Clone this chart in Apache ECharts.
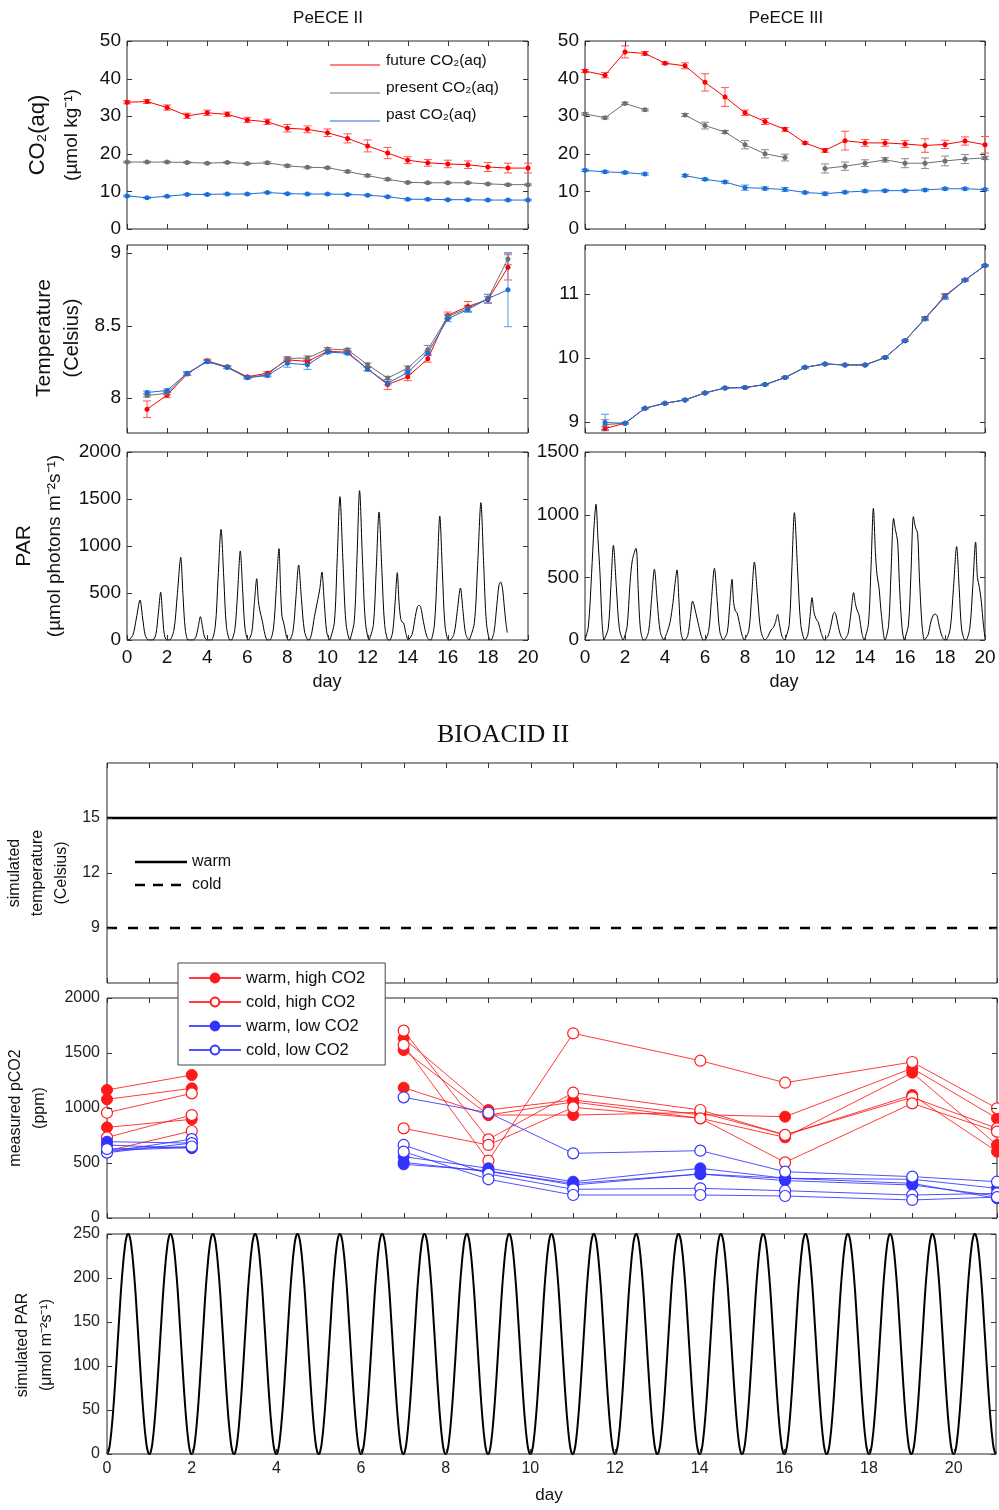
<!DOCTYPE html>
<html><head><meta charset="utf-8">
<script src="https://cdn.jsdelivr.net/npm/echarts@6/dist/echarts.min.js"></script>
<style>html,body{margin:0;padding:0;background:#fff}#c{width:999px;height:1510px}</style>
</head><body><div id="c"></div>
<script>
// ---------------- DATA ----------------
const co2Days = [0,1,2,3,4,5,6,7,8,9,10,11,12,13,14,15,16,17,18,19,20];
const peeceII_future     = [33.7,33.9,32.3,30.1,30.9,30.5,29.0,28.5,26.8,26.5,25.6,24.1,22.1,20.2,18.3,17.6,17.3,17.1,16.5,16.2,16.2];
const peeceII_futureErr  = [0.4,0.5,0.7,0.7,0.7,0.6,0.7,0.7,1.0,0.9,1.0,1.2,1.6,1.5,0.9,0.9,1.0,1.0,1.2,1.3,1.3];
const peeceII_present    = [17.8,17.8,17.8,17.7,17.5,17.7,17.4,17.6,16.8,16.4,16.3,15.3,14.2,13.2,12.4,12.3,12.3,12.3,12.0,11.8,11.8];
const peeceII_presentErr = [0.2,0.2,0.2,0.2,0.2,0.2,0.2,0.3,0.3,0.2,0.2,0.3,0.3,0.3,0.2,0.2,0.2,0.2,0.2,0.2,0.2];
const peeceII_past       = [8.8,8.3,8.7,9.2,9.2,9.3,9.3,9.7,9.4,9.3,9.3,9.2,9.0,8.6,7.9,7.9,7.8,7.8,7.7,7.7,7.7];
const peeceII_pastErr    = [0.2,0.2,0.2,0.2,0.2,0.2,0.2,0.2,0.2,0.2,0.2,0.2,0.2,0.2,0.2,0.2,0.2,0.2,0.2,0.2,0.2];

const peeceIII_future     = [42.0,40.9,47.1,46.7,44.1,43.4,39.0,35.1,30.9,28.6,26.5,22.9,20.9,23.5,22.9,22.9,22.6,22.2,22.5,23.4,22.4];
const peeceIII_futureErr  = [0.4,0.7,1.6,0.5,0.3,0.8,2.3,2.5,0.7,0.8,0.5,0.3,0.5,2.5,0.9,0.9,0.9,1.8,1.1,1.1,2.2];
const peeceIII_present    = [30.6,29.6,33.4,31.7,null,30.3,27.5,25.8,22.4,20.0,19.0,null,16.1,16.7,17.5,18.4,17.5,17.5,18.1,18.6,18.9];
const peeceIII_presentErr = [0.3,0.3,0.3,0.3,null,0.4,0.9,0.4,1.1,1.1,0.9,null,1.2,1.1,0.9,0.6,1.2,1.4,1.3,1.2,0.4];
const peeceIII_past       = [15.6,15.2,15.0,14.6,null,14.2,13.2,12.5,11.0,10.8,10.5,9.7,9.4,9.8,10.1,10.2,10.2,10.4,10.7,10.7,10.5];
const peeceIII_pastErr    = [0.3,0.3,0.3,0.3,null,0.3,0.3,0.3,0.7,0.4,0.5,0.3,0.4,0.3,0.3,0.3,0.3,0.3,0.3,0.3,0.3];

const tempDaysII = [1,2,3,4,5,6,7,8,9,10,11,12,13,14,15,16,17,18,19];
const tempII_future     = [7.924,8.021,8.166,8.257,8.216,8.147,8.172,8.264,8.253,8.322,8.317,8.200,8.094,8.147,8.271,8.570,8.632,8.678,8.901];
const tempII_futureErr  = [0.057,0.018,0.010,0.012,0.008,0.008,0.010,0.012,0.012,0.010,0.010,0.012,0.034,0.027,0.023,0.023,0.034,0.023,0.087];
const tempII_present    = [8.018,8.034,8.170,8.253,8.214,8.143,8.161,8.274,8.276,8.338,8.333,8.230,8.138,8.207,8.333,8.563,8.618,8.685,8.959];
const tempII_presentErr = [0.010,0.010,0.010,0.010,0.008,0.008,0.010,0.012,0.015,0.010,0.010,0.012,0.012,0.015,0.030,0.015,0.020,0.030,0.040];
const tempII_past       = [8.039,8.053,8.172,8.251,8.211,8.140,8.156,8.241,8.230,8.317,8.310,8.200,8.103,8.177,8.310,8.547,8.611,8.685,8.747];
const tempII_pastErr    = [0.010,0.010,0.010,0.010,0.008,0.008,0.010,0.028,0.032,0.010,0.010,0.012,0.012,0.012,0.015,0.020,0.020,0.030,0.255];

const tempDaysIII = [1,2,3,4,5,6,7,8,9,10,11,12,13,14,15,16,17,18,19,20];
const tempIII_future     = [8.890,8.974,9.209,9.287,9.339,9.449,9.527,9.533,9.580,9.689,9.851,9.903,9.888,9.888,10.003,10.269,10.620,10.975,11.219,11.449];
const tempIII_futureErr  = [0.030,0.010,0.010,0.010,0.010,0.010,0.010,0.010,0.010,0.010,0.010,0.010,0.010,0.010,0.010,0.015,0.020,0.030,0.015,0.010];
const tempIII_present    = [8.950,8.974,9.209,9.287,9.339,9.449,9.527,9.533,9.580,9.689,9.851,9.903,9.888,9.888,10.003,10.269,10.610,10.965,11.219,11.449];
const tempIII_presentErr = [0.080,0.010,0.010,0.010,0.010,0.010,0.010,0.010,0.010,0.010,0.010,0.010,0.010,0.010,0.010,0.015,0.020,0.040,0.015,0.010];
const tempIII_past       = [8.984,8.974,9.209,9.287,9.339,9.449,9.527,9.533,9.580,9.689,9.851,9.903,9.888,9.888,10.003,10.269,10.614,10.958,11.219,11.449];
const tempIII_pastErr    = [0.130,0.010,0.010,0.010,0.010,0.010,0.010,0.010,0.010,0.010,0.010,0.010,0.010,0.010,0.010,0.015,0.025,0.045,0.015,0.010];

// measured PAR, [day, umol photons m-2 s-1]
const parII = [
[0,0],[0.05,0],[0.29,51],[0.47,234],[0.65,425],[0.78,234],[0.91,51],[1.08,0],
[1.28,0],[1.44,61],[1.56,279],[1.68,507],[1.77,279],[1.86,61],[1.98,0],
[2.12,0],[2.34,106],[2.51,484],[2.68,880],[2.79,484],[2.91,106],[3.06,0],
[3.28,0],[3.43,30],[3.55,136],[3.66,248],[3.77,136],[3.87,30],[4.01,0],
[4.2,0],[4.40,141],[4.54,648],[4.69,1178],[4.83,648],[4.96,141],[5.14,0],
[5.2,0],[5.38,114],[5.52,521],[5.65,947],[5.77,521],[5.89,114],[6.05,0],
[6.22,78],[6.34,359],[6.47,652],[6.55,420],[6.62,320],[6.75,200],[6.88,60],[7.0,0],
[7.12,0],[7.30,117],[7.44,535],[7.58,972],[7.66,535],[7.73,250],[7.83,170],[7.95,40],[8.05,0],
[8.1,0],[8.28,96],[8.42,439],[8.56,798],[8.70,439],[8.85,96],[9.04,0],
[9.08,0],[9.2,60],[9.35,250],[9.48,390],[9.62,550],[9.72,723],[9.84,398],[9.96,87],[10.12,0],
[10.15,0],[10.34,183],[10.48,839],[10.62,1525],[10.77,839],[10.92,183],[11.12,0],
[11.15,0],[11.33,191],[11.47,874],[11.6,1589],[11.74,874],[11.89,191],[12.08,0],
[12.1,0],[12.29,163],[12.43,749],[12.57,1362],[12.71,749],[12.85,163],[13.03,0],
[13.1,0],[13.25,86],[13.37,394],[13.48,716],[13.57,394],[13.65,230],[13.72,190],[13.8,180],[13.9,80],[14.03,0],
[14.05,0],[14.22,60],[14.38,250],[14.48,350],[14.56,369],[14.65,350],[14.78,200],[14.95,40],[15.11,0],
[15.15,0],[15.33,158],[15.47,725],[15.6,1319],[15.73,725],[15.86,158],[16.03,0],
[16.1,0],[16.31,66],[16.47,304],[16.63,553],[16.76,304],[16.89,66],[17.07,0],
[17.1,0],[17.32,175],[17.49,804],[17.65,1461],[17.79,804],[17.93,175],[18.11,0],
[18.15,0],[18.3,80],[18.45,380],[18.55,580],[18.63,617],[18.72,560],[18.82,350],[18.9,180],[18.97,78]
];
const parIII = [
[0,0],[0.17,110],[0.33,530],[0.45,900],[0.55,1083],[0.65,800],[0.75,530],[0.85,150],[0.95,0],
[0.98,0],[1.16,91],[1.29,416],[1.42,756],[1.57,416],[1.72,91],[1.92,0],
[1.95,0],[2.1,100],[2.25,450],[2.37,640],[2.55,732],[2.66,403],[2.77,88],[2.92,0],
[2.98,0],[3.18,68],[3.32,310],[3.47,564],[3.61,310],[3.76,68],[3.95,0],
[3.97,0],[4.1,60],[4.25,140],[4.4,300],[4.5,450],[4.6,559],[4.70,307],[4.79,67],[4.92,0],
[4.98,0],[5.14,37],[5.26,171],[5.38,311],[5.45,280],[5.55,210],[5.65,140],[5.8,40],[5.92,0],
[5.98,0],[6.18,69],[6.32,315],[6.47,572],[6.61,315],[6.74,69],[6.92,0],
[6.95,0],[7.11,58],[7.23,266],[7.35,484],[7.43,300],[7.52,230],[7.6,220],[7.7,150],[7.85,40],[7.97,0],
[8.0,0],[8.19,75],[8.33,342],[8.47,622],[8.63,342],[8.79,75],[9.0,0],
[9.15,30],[9.3,80],[9.42,100],[9.52,140],[9.63,205],[9.72,130],[9.85,30],[10.0,0],
[10.03,0],[10.21,122],[10.34,559],[10.47,1016],[10.63,559],[10.79,122],[11.0,0],
[11.14,41],[11.25,186],[11.35,338],[11.45,220],[11.55,170],[11.67,140],[11.8,60],[11.97,0],
[12.0,0],[12.15,30],[12.3,120],[12.4,200],[12.47,221],[12.55,200],[12.65,120],[12.8,30],[12.97,0],
[13.0,0],[13.15,50],[13.3,220],[13.43,378],[13.52,290],[13.6,240],[13.7,200],[13.85,50],[13.97,0],
[14.0,0],[14.17,126],[14.3,578],[14.42,1051],[14.52,700],[14.6,520],[14.7,420],[14.82,200],[15.0,0],
[15.18,117],[15.3,534],[15.43,971],[15.52,880],[15.63,790],[15.72,450],[15.85,100],[15.97,0],
[16.0,0],[16.17,118],[16.3,541],[16.42,984],[16.52,900],[16.63,850],[16.72,500],[16.85,120],[16.97,0],
[17.0,0],[17.15,40],[17.3,150],[17.42,200],[17.5,207],[17.6,195],[17.7,120],[17.85,30],[18.0,0],
[18.05,0],[18.26,89],[18.42,410],[18.58,745],[18.71,410],[18.83,89],[19.0,0],
[19.05,0],[19.24,94],[19.39,430],[19.53,782],[19.62,500],[19.72,420],[19.82,300],[19.92,120],[20.0,20]
];

// BIOACID II
const bioTempDays = [0, 21];
const warmTemp = [15, 15];
const coldTemp = [9, 9];

const bioDays = [0, 2, 7, 9, 11, 14, 16, 19, 21];
const warmHigh = [
  [1164,1300,1633,982,1073,939,921,1361,906],
  [1079,1179,1527,936,1055,906,733,1321,664],
  [824,897,1185,936,936,960,755,1118,603]
];
const coldHigh = [
  [957,1133,1703,715,1139,982,755,1097,815],
  [733,936,815,664,1006,906,506,1042,785],
  [610,791,1573,521,1679,1430,1230,1418,997]
];
const warmLow = [
  [694,681,557,452,330,452,361,352,270],
  [663,635,506,421,315,400,361,315,179],
  [615,640,488,430,300,400,340,300,200]
];
const coldLow = [
  [600,717,1097,957,588,612,421,376,330],
  [594,681,664,400,261,270,248,209,224],
  [627,650,603,352,209,209,200,164,190]
];

// simulated PAR: one daily cycle (hourly values) repeated each simulated day
const bioParHourly = [0,4,17,37,63,93,125,157,188,213,233,246,250,246,233,213,188,157,125,93,63,37,17,4];
const bioParNDays = 21;

// tick positions
const dayTicks2  = [0,2,4,6,8,10,12,14,16,18,20];
const dayTicks1  = [0,1,2,3,4,5,6,7,8,9,10,11,12,13,14,15,16,17,18,19,20,21];
const co2Ticks   = [0,10,20,30,40,50];
const tempIITicks  = [8,8.5,9];
const tempIIITicks = [9,10,11];
const parIITicks   = [0,500,1000,1500,2000];
const parIIITicks  = [0,500,1000,1500];
const bioTempTicks = [9,12,15];
const pco2Ticks    = [0,500,1000,1500,2000];
const bioParTicks  = [0,50,100,150,200,250];

// ---------------- BUILD ----------------
const F = '"Liberation Sans", Arial, Helvetica, sans-serif';
const RED='#ff0000', GRAY='#707070', BLUE='#1a6ed8';
const REDE='#ff5555', GRAYE='#8a8a8a', BLUEE='#5a9be6';
const BRED='#ff1a1a', BBLUE='#3333ff';
const plain = v => String(v);

const grids=[], xAxes=[], yAxes=[], series=[];

function panel(box, xo, yo){
  const gi = grids.length;
  grids.push({left:box[0], top:box[1], width:box[2], height:box[3], show:true,
    borderColor:'#262626', borderWidth:1, backgroundColor:'rgba(0,0,0,0)'});
  const xi = xAxes.length, yi = yAxes.length;
  xAxes.push(Object.assign({type:'value', gridIndex:gi, axisLine:{show:false}, splitLine:{show:false}, axisTick:{show:false}}, xo.scale,
    {position:'bottom', axisLabel: xo.label || {show:false}}));
  yAxes.push(Object.assign({type:'value', gridIndex:gi, axisLine:{show:false}, splitLine:{show:false}, axisTick:{show:false}}, yo.scale,
    {position:'left', axisLabel: yo.label || {show:false}}));
  const p = {xi, yi};
  // inward ticks on all four sides, placed through the axes' scales
  const xmin = xo.scale.min, ymin = yo.scale.min;
  const xt = xo.ticks, yt = yo.ticks, L = 5;
  series.push({type:'custom', xAxisIndex:xi, yAxisIndex:yi, data:[[xmin, ymin]], z:6, silent:true, clip:false,
    encode:{x:0, y:1},
    renderItem:(params, api)=>{
      const cs = params.coordSys, ch = [];
      const st = {stroke:'#333', lineWidth:1};
      xt.forEach(v=>{ const px = Math.round(api.coord([v, ymin])[0]) + 0.5;
        ch.push({type:'line', shape:{x1:px, y1:cs.y+cs.height, x2:px, y2:cs.y+cs.height-L}, style:st});
        ch.push({type:'line', shape:{x1:px, y1:cs.y, x2:px, y2:cs.y+L}, style:st}); });
      yt.forEach(v=>{ const py = Math.round(api.coord([xmin, v])[1]) + 0.5;
        ch.push({type:'line', shape:{x1:cs.x, y1:py, x2:cs.x+L, y2:py}, style:st});
        ch.push({type:'line', shape:{x1:cs.x+cs.width, y1:py, x2:cs.x+cs.width-L, y2:py}, style:st}); });
      return {type:'group', children:ch};
    }});
  return p;
}

function lineS(p, days, vals, color, size){
  series.push({type:'line', xAxisIndex:p.xi, yAxisIndex:p.yi,
    data: days.map((d,i)=>[d, vals[i]==null ? '-' : vals[i]]),
    symbol:'circle', symbolSize:size||5, showSymbol:true, connectNulls:false,
    lineStyle:{color, width:1}, itemStyle:{color}, z:4, silent:true});
}
function errS(p, days, vals, errs, color, cap){
  const data=[];
  days.forEach((d,i)=>{ if(vals[i]!=null && errs[i]!=null) data.push([d, vals[i], errs[i]]); });
  series.push({type:'custom', xAxisIndex:p.xi, yAxisIndex:p.yi, data, z:3, silent:true,
    encode:{x:0, y:1},
    renderItem:(params, api)=>{
      const x=api.value(0), y=api.value(1), e=api.value(2);
      const a=api.coord([x, y+e]), b=api.coord([x, y-e]);
      const st={stroke:color, lineWidth:1};
      return {type:'group', children:[
        {type:'line', shape:{x1:a[0],y1:a[1],x2:b[0],y2:b[1]}, style:st},
        {type:'line', shape:{x1:a[0]-cap,y1:a[1],x2:a[0]+cap,y2:a[1]}, style:st},
        {type:'line', shape:{x1:b[0]-cap,y1:b[1],x2:b[0]+cap,y2:b[1]}, style:st}
      ]};
    }});
}

const topLbl = () => ({show:true, fontSize:19, fontFamily:F, color:'#111', margin:6, formatter:plain});
const topXLbl = () => ({show:true, fontSize:19, fontFamily:F, color:'#111', margin:8, formatter:plain});
const X20 = {min:0, max:20, interval:2};

// CO2 panels
const pA = panel([127,41,401,188], {scale:X20, ticks:dayTicks2}, {scale:{min:0,max:50,interval:10}, ticks:co2Ticks, label:topLbl()});
const pB = panel([585,41,400,188], {scale:X20, ticks:dayTicks2}, {scale:{min:0,max:50,interval:10}, ticks:co2Ticks, label:topLbl()});
[[pA, peeceII_future, peeceII_futureErr, RED, REDE],
 [pA, peeceII_present, peeceII_presentErr, GRAY, GRAYE],
 [pA, peeceII_past, peeceII_pastErr, BLUE, BLUEE],
 [pB, peeceIII_future, peeceIII_futureErr, RED, REDE],
 [pB, peeceIII_present, peeceIII_presentErr, GRAY, GRAYE],
 [pB, peeceIII_past, peeceIII_pastErr, BLUE, BLUEE]].forEach(r=>{
  errS(r[0], co2Days, r[1], r[2], r[4], 4);
  lineS(r[0], co2Days, r[1], r[3], 5);
});

// Temperature panels
const tLblNoEnds = () => Object.assign(topLbl(), {showMinLabel:false, showMaxLabel:false});
const pC = panel([127,245,401,188], {scale:X20, ticks:dayTicks2},
  {scale:{min:7.76, max:9.055, minInterval:0.5, maxInterval:0.5}, ticks:tempIITicks, label:tLblNoEnds()});
const pD = panel([585,245,400,188], {scale:X20, ticks:dayTicks2},
  {scale:{min:8.82, max:11.77, minInterval:1, maxInterval:1}, ticks:tempIIITicks, label:tLblNoEnds()});
[[pC, tempDaysII, tempII_future, tempII_futureErr, RED, REDE],
 [pC, tempDaysII, tempII_present, tempII_presentErr, GRAY, GRAYE],
 [pC, tempDaysII, tempII_past, tempII_pastErr, BLUE, BLUEE],
 [pD, tempDaysIII, tempIII_future, tempIII_futureErr, RED, REDE],
 [pD, tempDaysIII, tempIII_present, tempIII_presentErr, GRAY, GRAYE],
 [pD, tempDaysIII, tempIII_past, tempIII_pastErr, BLUE, BLUEE]].forEach(r=>{
  errS(r[0], r[1], r[2], r[3], r[5], 4);
  lineS(r[0], r[1], r[2], r[4], 5);
});

// PAR panels
const pE = panel([127,452,401,188], {scale:X20, ticks:dayTicks2, label:topXLbl()},
  {scale:{min:0,max:2000,interval:500}, ticks:parIITicks, label:topLbl()});
const pF = panel([585,452,400,188], {scale:X20, ticks:dayTicks2, label:topXLbl()},
  {scale:{min:0,max:1500,interval:500}, ticks:parIIITicks, label:topLbl()});
[[pE, parII],[pF, parIII]].forEach(r=>{
  series.push({type:'line', xAxisIndex:r[0].xi, yAxisIndex:r[0].yi, data:r[1], showSymbol:false, symbol:'none',
    smooth:0.3, lineStyle:{color:'#000', width:1}, z:4, silent:true});
});

// BIOACID panels
const botLbl = () => ({show:true, fontSize:16, fontFamily:F, color:'#222', margin:7, formatter:plain});
const X21d = {min:0, max:21, interval:1};
const pG = panel([107,763,890,220], {scale:X21d, ticks:dayTicks1},
  {scale:{min:6,max:18,interval:3}, ticks:bioTempTicks, label:Object.assign(botLbl(), {formatter:v=>(v===6||v===18)?'':String(v)})});
series.push({type:'line', xAxisIndex:pG.xi, yAxisIndex:pG.yi, data:bioTempDays.map((d,i)=>[d,warmTemp[i]]),
  symbol:'none', lineStyle:{color:'#000', width:2.5}, z:4, silent:true});
series.push({type:'line', xAxisIndex:pG.xi, yAxisIndex:pG.yi, data:bioTempDays.map((d,i)=>[d,coldTemp[i]]),
  symbol:'none', lineStyle:{color:'#000', width:2.5, type:[10,11]}, z:4, silent:true});

const pH = panel([107,998,890,220], {scale:X21d, ticks:dayTicks1},
  {scale:{min:0,max:2000,interval:500}, ticks:pco2Ticks, label:botLbl()});
function bioLine(vals, name, color, filled){
  // break the line over the sampling gap between day 2 and day 7
  const data = [];
  bioDays.forEach((d,i)=>{ data.push([d, vals[i]]); if(d===2) data.push([4.5,'-']); });
  series.push({type:'line', name, xAxisIndex:pH.xi, yAxisIndex:pH.yi, data, connectNulls:false,
    symbol:'circle', symbolSize:11, showSymbol:true,
    lineStyle:{color, width:1, opacity:0.85},
    itemStyle: filled ? {color, borderColor:color, borderWidth:1} : {color:'#fff', borderColor:color, borderWidth:1.2},
    z:4, silent:true});
}
warmHigh.forEach(v=>bioLine(v,'warm, high CO2',BRED,true));
coldHigh.forEach(v=>bioLine(v,'cold, high CO2',BRED,false));
warmLow.forEach(v=>bioLine(v,'warm, low CO2',BBLUE,true));
coldLow.forEach(v=>bioLine(v,'cold, low CO2',BBLUE,false));

const pI = panel([107,1234,890,220], {scale:{min:0,max:21,interval:2}, ticks:dayTicks2,
  label:Object.assign(botLbl(), {formatter:v=>v>20?'':String(v)})},
  {scale:{min:0,max:250,interval:50}, ticks:bioParTicks, label:botLbl()});
const bioPar = [];
for(let d=0; d<bioParNDays; d++) bioParHourly.forEach((v,h)=>bioPar.push([d+h/24, v]));
bioPar.push([bioParNDays, bioParHourly[0]]);
series.push({type:'line', xAxisIndex:pI.xi, yAxisIndex:pI.yi, data:bioPar, symbol:'none', smooth:true,
  lineStyle:{color:'#000', width:2}, z:4, silent:true});

// ---------------- TEXT ----------------
function txt(x, y, text, size, opts){
  opts = opts || {};
  return {type:'text', x, y, rotation: opts.rot ? Math.PI/2 : 0, z:20, silent:true,
    style:{text, fontSize:size, fontFamily:opts.font||F, fill:opts.color||'#111',
      align:opts.align||'center', verticalAlign:'middle', textAlign:opts.align||'center', textVerticalAlign:'middle'}};
}
const graphics = [
  txt(328,18,'PeECE II',17), txt(786,18,'PeECE III',17),
  txt(38,135,'CO₂(aq)',22,{rot:1}), txt(72,135,'(µmol kg⁻¹)',19,{rot:1}),
  txt(44,338,'Temperature',21,{rot:1}), txt(72,338,'(Celsius)',20,{rot:1}),
  txt(24,546,'PAR',21,{rot:1}), txt(55,546,'(µmol photons m⁻²s⁻¹)',19,{rot:1}),
  txt(327,682,'day',18), txt(784,682,'day',18),
  txt(503,735,'BIOACID II',26,{font:'"Liberation Serif", "DejaVu Serif", serif'}),
  txt(15,873,'simulated',16,{rot:1}), txt(38,873,'temperature',16,{rot:1}), txt(62,873,'(Celsius)',16,{rot:1}),
  txt(16,1108,'measured pCO2',16,{rot:1}), txt(40,1108,'(ppm)',16,{rot:1}),
  txt(23,1345,'simulated PAR',16,{rot:1}), txt(47,1345,'(μmol m⁻²s⁻¹)',16,{rot:1}),
  txt(549,1495,'day',17),
  // CO2 legend (PeECE II)
  {type:'line', shape:{x1:330,y1:65,x2:380,y2:65}, style:{stroke:RED, lineWidth:1}, z:20},
  {type:'line', shape:{x1:330,y1:93,x2:380,y2:93}, style:{stroke:GRAY, lineWidth:1}, z:20},
  {type:'line', shape:{x1:330,y1:121,x2:380,y2:121}, style:{stroke:BLUE, lineWidth:1}, z:20},
  txt(386,61,'future CO₂(aq)',15.5,{align:'left'}),
  txt(386,88,'present CO₂(aq)',15.5,{align:'left'}),
  txt(386,115,'past CO₂(aq)',15.5,{align:'left'}),
  // temperature legend (BIOACID)
  {type:'line', shape:{x1:135,y1:862,x2:187,y2:862}, style:{stroke:'#000', lineWidth:2.5}, z:20},
  {type:'line', shape:{x1:135,y1:885,x2:187,y2:885}, style:{stroke:'#000', lineWidth:2.5, lineDash:[10,8]}, z:20},
  txt(192,862,'warm',16,{align:'left'}),
  txt(192,885,'cold',16,{align:'left'})
];

const option = {
  animation:false, backgroundColor:'#fff',
  grid:grids, xAxis:xAxes, yAxis:yAxes, series,
  legend:{data:['warm, high CO2','cold, high CO2','warm, low CO2','cold, low CO2'],
    left:178, top:963, orient:'vertical', itemWidth:52, itemHeight:11, itemGap:6,
    padding:[6,20,6,10], backgroundColor:'#fff', borderColor:'#444', borderWidth:1,
    textStyle:{fontSize:16.5, fontFamily:F, color:'#111', lineHeight:18}, selectedMode:false, z:15},
  graphic:{elements:graphics}
};
const chart = echarts.init(document.getElementById('c'), null, {renderer:'canvas'});
chart.setOption(option);
</script></body></html>
